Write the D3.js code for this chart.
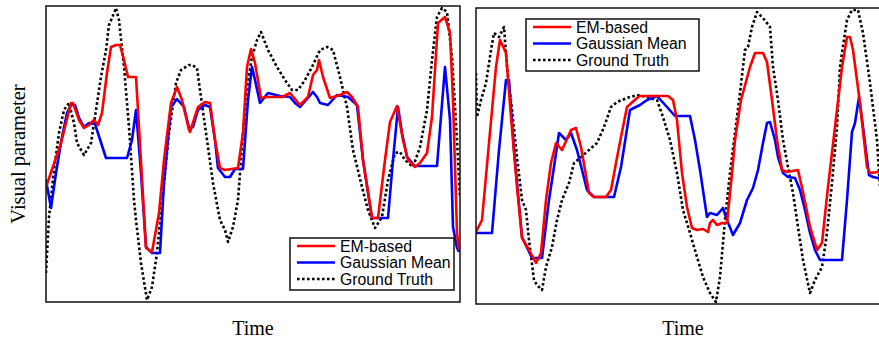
<!DOCTYPE html>
<html>
<head>
<meta charset="utf-8">
<script src="https://cdn.jsdelivr.net/npm/d3@7"></script>
<style>
  html, body { margin: 0; padding: 0; background: #fff; }
  svg { display: block; }
</style>
</head>
<body>
<div id="chart"></div>
<script>
// series labels (legend order)
const seriesNames = ['EM-based', 'Gaussian Mean', 'Ground Truth'];
const xLabel = 'Time';
const yLabel = 'Visual parameter';

// left panel: [time, value]
const leftEM = [[0,57.5],[7.5,79.5],[12.5,99.5],[13.5,99.5],[16.5,91],[19,87],[21.5,88.5],[24,91],[26,88.5],[28,94.5],[30.5,114.5],[32.5,127.5],[35,128.5],[37,128.5],[39,121],[41,112.5],[45,112.5],[46,96],[50,27],[53,25],[56.5,44.5],[59,71],[62.5,99.5],[65.5,107.5],[68,101],[71.5,86],[72,85],[76,97.5],[79.5,100],[82,99.5],[84.5,81],[87,67],[89.5,66],[96,67],[98.5,84.5],[100.5,117.5],[102.5,126.5],[104.5,119.5],[107.5,102],[110.5,102.5],[118,102.5],[122,104.5],[127,98.5],[131,102.5],[133.5,113.5],[135.5,116],[136.5,121],[138.5,112.5],[142,102],[147,103.5],[150.5,105],[153,102.5],[156,97.5],[158.5,71],[163,42],[166,42],[169.5,71],[172,90],[175.5,98],[178.5,81],[181,71],[184.5,67.5],[187,69.5],[190.5,74.5],[193,92.5],[196,139.5],[199.5,142.5],[202,134.5],[203.5,101],[205.5,34.5],[206.5,26]];
const leftGM = [[0,61],[2.5,47],[5,64.5],[8,82.5],[10.5,94.5],[12.5,98.5],[14.5,98.5],[16.5,92],[19,87.5],[21.5,89.5],[24.5,89],[30,72],[40.5,72],[43,81],[45,96],[47.5,64.5],[50,27.5],[53,24.5],[57,24.5],[59,59.5],[62.5,97.5],[65.5,101.5],[69,97.5],[71.5,87],[73.5,87.5],[76,96],[79.5,98.5],[82,97.5],[84.5,81],[86,67],[89.5,62.5],[92,62.5],[94.5,66.5],[98.5,66.5],[101,101],[103,117.5],[104.5,111],[107,99.5],[111,104.5],[117,103],[122,102.5],[124.5,99.5],[127,97.5],[131,102],[133.5,105],[135.5,102.5],[137,99.5],[141,98.5],[145.5,103.5],[151,102.5],[155.5,98.5],[158.5,71],[163,42],[171,42],[173.5,71],[176,97.5],[178,84.5],[180.5,72.5],[184.5,68],[195.5,68],[199.5,117.5],[202,91],[203.5,37.5],[205.5,27],[206.5,25]];
const leftGT = [[0,14.5],[1.5,42.5],[4,66],[6.5,84.5],[9,96],[11.5,99.5],[14,89.5],[15.5,79.5],[19,73.5],[22.5,79.5],[25,96],[27.5,112.5],[30,126],[31.5,138.5],[33,142],[35,147],[36.5,141],[39,117.5],[41.5,87.5],[44,51],[45,41],[47.5,19.5],[50.5,1],[53,7.5],[55.5,24.5],[59,59.5],[61.5,84.5],[65,109.5],[67.5,116],[71.5,118.5],[73,118.5],[75.5,117],[77,106],[80.5,81],[83.5,59.5],[87,41],[89.5,36],[91,30],[93.5,37.5],[96,51],[98.5,84.5],[100.5,107],[103,122.5],[105.5,131],[107.5,135],[111,126],[115.5,117.5],[119.5,111],[123,106],[126,106],[129.5,111],[133,117.5],[137,126],[140.5,127.5],[143.5,126],[147,112.5],[150.5,97.5],[153.5,76],[158,57.5],[161,46],[164.5,37],[168,42.5],[171,61],[174.5,74.5],[177,75],[179.5,71],[183.5,67.5],[187,77.5],[190.5,96],[193,121],[195.5,142.5],[198,147],[200.5,145],[203,122.5],[205.5,81],[207,52.5]];

// right panel: [time, value]
const rightEM = [[0,36],[3,42],[6.5,80.5],[10,118.5],[12,132],[15,125.5],[17.5,93.5],[20.5,58.5],[23,33],[26.5,27],[30,20.5],[32.5,25.5],[35,52],[37.5,70.5],[40,80.5],[43,77],[47.5,87],[50,88],[52.5,78.5],[56.5,55.5],[59,53.5],[65,53.5],[67.5,57],[70,70.5],[72.5,83.5],[75.5,98.5],[80.5,103],[82,104],[96,104],[98.5,102],[100.5,92],[103,65.5],[105.5,48.5],[108,38],[110.5,37],[113.5,37.5],[116,36],[117,40.5],[118.5,42],[120.5,39.5],[123,40.5],[125.5,40.5],[128,65.5],[129.5,82],[132.5,102],[137,118.5],[139.5,125.5],[143.5,125.5],[145.5,121],[148,102],[150.5,82],[153,67],[155.5,66],[161,67],[163.5,56],[167,38.5],[170.5,27],[173,30.5],[176,58.5],[179.5,88.5],[183,118.5],[185.5,133.5],[187,133.5],[188.5,127],[192,100.5],[195.5,68.5],[197,65.5],[201,66],[207,66]];
const rightGM = [[0,35.5],[8,35.5],[11.5,77],[15,112],[16.5,112],[19,77],[23,33.5],[28,23],[33,23],[36.5,52],[39,68.5],[41.5,85.5],[45,82],[47.5,85.5],[50.5,77],[55.5,57],[59,53.5],[69,53.5],[72.5,68.5],[77,97],[82,99.5],[85.5,102],[90.5,104],[95.5,98.5],[99.5,94],[107,94],[109.5,82],[112,67],[115.5,43.5],[117,45.5],[120.5,44.5],[123.5,48],[125.5,42],[128.5,34.5],[132,40.5],[135.5,52],[138.5,58],[141,67],[143.5,80.5],[145.5,90.5],[147,91],[149.5,82],[151,73.5],[153.5,65.5],[156,63.5],[159.5,63],[162,57],[164.5,47],[167,35.5],[169.5,27],[172,22],[183,22],[185.5,52],[188,86],[189.5,90.5],[191.5,103.5],[193.5,88.5],[196.5,64.5],[198.5,63.5],[201,63],[207,62]];
const rightGT = [[0,115.5],[0.5,93.5],[2.5,102],[5,110.5],[7.5,127],[9,135.5],[11.5,133.5],[14,138.5],[15.5,118.5],[18,97],[20.5,73.5],[23,52],[25,47],[26.5,32],[29,12],[30.5,9.5],[33,7],[35,18.5],[38,28.5],[40.5,42],[43,52],[46.5,60.5],[49,70.5],[52.5,73.5],[56.5,77],[60.5,80.5],[64,88.5],[67.5,98.5],[70.5,101],[75.5,103],[80.5,104.5],[85.5,103.5],[90.5,102],[93.5,93.5],[97,82],[100.5,65.5],[103.5,47],[107,35.5],[110.5,23.5],[113.5,13.5],[117,5.5],[120,1],[122,13.5],[124.5,42],[127,65.5],[129.5,85.5],[132,105.5],[134.5,127],[136,128.5],[138,138.5],[140.5,146],[143.5,143],[147,138.5],[148.5,118.5],[151,102],[153.5,82],[156,68.5],[158.5,55.5],[161,38.5],[163.5,22],[167,5.5],[169.5,12],[173,18.5],[175.5,35.5],[178,60.5],[180.5,88.5],[182,118.5],[183,125.5],[185.5,142],[188,147],[191,147],[193.5,135.5],[197,110.5],[200.5,82],[202,58.5],[207,30]];

const W = 879, H = 344;
const svg = d3.select('#chart').append('svg')
  .attr('width', W)
  .attr('height', H)
  .attr('font-family', '"Liberation Serif", "Times New Roman", serif');

const styles = [
  { color: '#ff0000', dash: null },
  { color: '#0000ff', dash: null },
  { color: '#000000', dash: '2.6,2.4' }
];

// y label shared on the left
svg.append('text')
  .attr('transform', 'translate(25,154) rotate(-90)')
  .attr('text-anchor', 'middle')
  .attr('font-size', 20.5)
  .text(yLabel);

function drawPanel(id, left, top, width, height, series, legendPos) {
  const g = svg.append('g').attr('transform', `translate(${left},${top})`);
  const x = d3.scaleLinear().domain([0, 207]).range([0, width]);
  const y = d3.scaleLinear().domain([0, 148]).range([height, 0]);

  g.append('clipPath').attr('id', 'clip-' + id)
    .append('rect').attr('width', width).attr('height', height);

  const line = d3.line().x(d => x(d[0])).y(d => y(d[1]));

  // ground truth first, then gaussian, EM on top
  const order = [2, 1, 0];
  order.forEach(i => {
    g.append('path')
      .datum(series[i])
      .attr('clip-path', `url(#clip-${id})`)
      .attr('d', line)
      .attr('fill', 'none')
      .attr('stroke', styles[i].color)
      .attr('stroke-width', 2.6)
      .attr('stroke-linejoin', 'round')
      .attr('stroke-dasharray', styles[i].dash);
  });

  g.append('rect')
    .attr('width', width)
    .attr('height', height)
    .attr('fill', 'none')
    .attr('stroke', '#111')
    .attr('stroke-width', 1.5);

  g.append('text')
    .attr('x', width / 2)
    .attr('y', 335 - top)
    .attr('text-anchor', 'middle')
    .attr('font-size', 20)
    .text(xLabel);

  // legend
  const lg = g.append('g').attr('transform', `translate(${legendPos[0]},${legendPos[1]})`);
  lg.append('rect')
    .attr('width', legendPos[2])
    .attr('height', 52)
    .attr('fill', '#fff')
    .attr('stroke', '#111')
    .attr('stroke-width', 1.5);
  seriesNames.forEach((name, i) => {
    const ry = 8 + i * 16.5;
    lg.append('line')
      .attr('x1', 7).attr('x2', 45)
      .attr('y1', ry).attr('y2', ry)
      .attr('stroke', styles[i].color)
      .attr('stroke-width', 2.6)
      .attr('stroke-dasharray', styles[i].dash);
    lg.append('text')
      .attr('x', 50)
      .attr('y', ry + 5.5)
      .attr('font-family', '"Liberation Sans", Arial, sans-serif')
      .attr('font-size', 15.8)
      .text(name);
  });
}

drawPanel('l', 46, 6, 414, 296, [leftEM, leftGM, leftGT], [244, 232, 164]);
drawPanel('r', 476, 8, 414, 296, [rightEM, rightGM, rightGT], [50, 11, 173]);
</script>
</body>
</html>
